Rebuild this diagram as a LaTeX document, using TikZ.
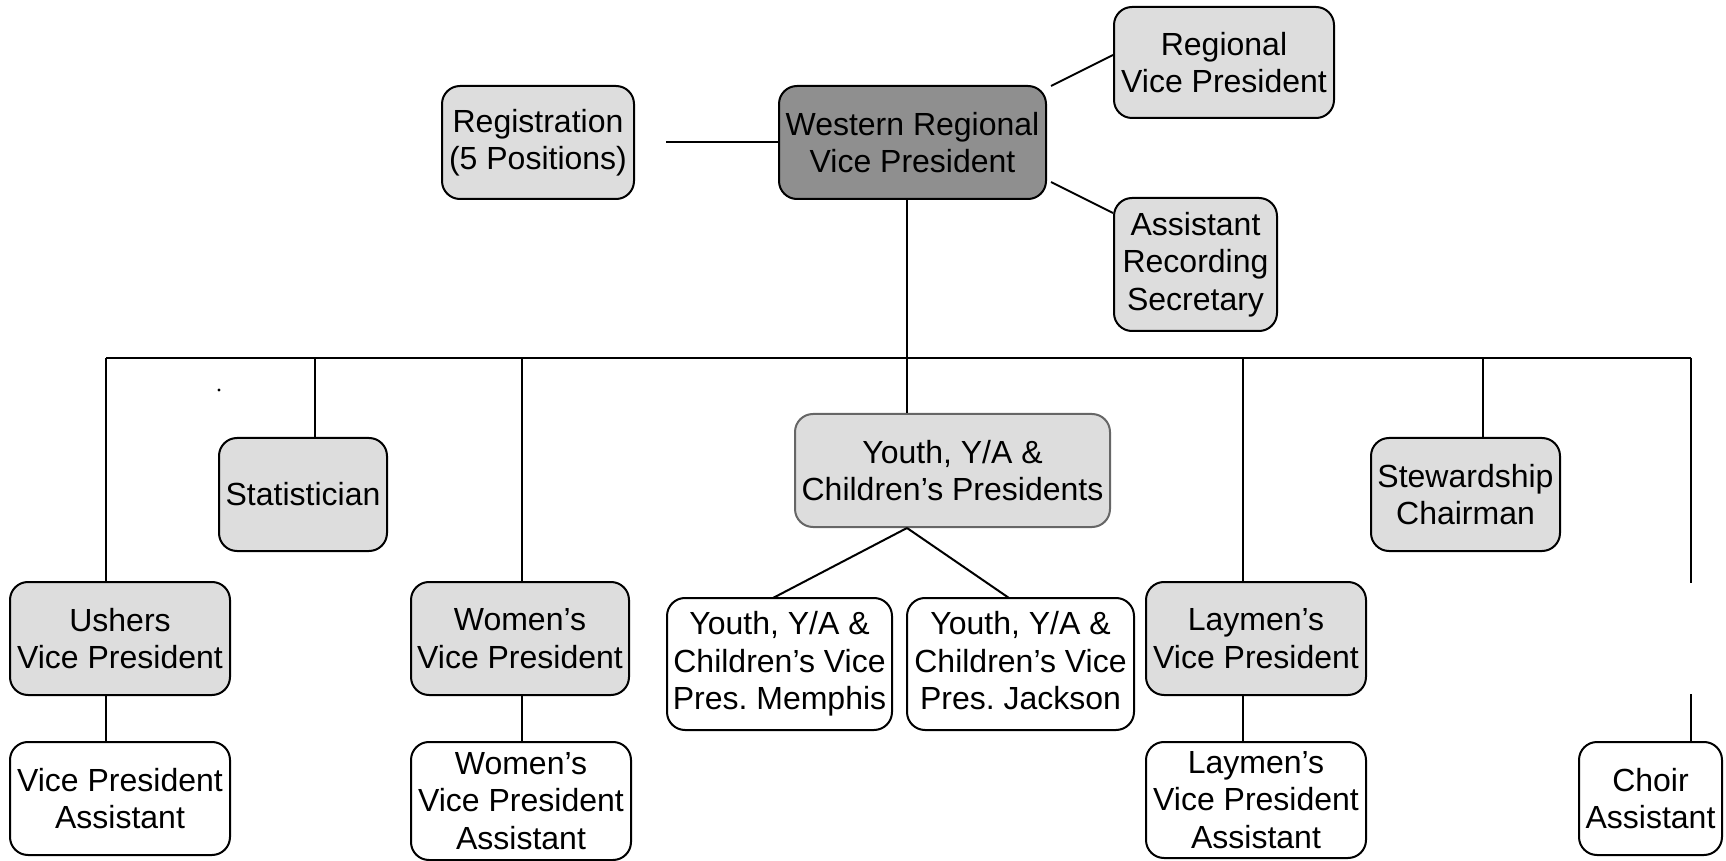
\documentclass[tikz,border=0pt]{standalone}
\usepackage{fontspec}
\setmainfont{Liberation Sans}
\frenchspacing
\definecolor{boxgray}{HTML}{DDDDDD}
\definecolor{headgray}{HTML}{8F8F8F}
\definecolor{edgegray}{HTML}{666666}
\begin{document}
\begin{tikzpicture}[x=0.5pt,y=-0.5pt,
  every node/.style={font=\fontsize{16}{18.7}\selectfont, align=center, inner sep=0pt},
  post/.style={draw=black, line width=1pt, rounded corners=9pt},
  filled/.style={post, fill=boxgray},
  plain/.style={post, fill=white},
  link/.style={draw=black, line width=1pt}]
\useasboundingbox (0,0) rectangle (1726,861);

% top row
\node[filled, minimum width=96pt, minimum height=56.5pt] (reg) at (538,142.5) {Registration\\(5 Positions)};
\node[post, fill=headgray, minimum width=133.5pt, minimum height=56.5pt] (wrvp) at (912.5,142.5) {Western Regional\\Vice President};
\node[filled, minimum width=110pt, minimum height=55.5pt] (rvp) at (1224,62.5) {Regional\\Vice President};
\node[filled, minimum width=81.5pt, minimum height=66.5pt] (ars) at (1195.5,264.5) {Assistant\\Recording\\Secretary};

% second row
\node[filled, minimum width=84pt, minimum height=56.5pt] (stat) at (303,494.5) {Statistician};
\node[post, draw=edgegray, fill=boxgray, minimum width=157.5pt, minimum height=56.5pt] (yp) at (952.5,470.5) {Youth, Y/A \&\\Children’s Presidents};
\node[filled, minimum width=94.5pt, minimum height=56.5pt] (stew) at (1465.5,494.5) {Stewardship\\Chairman};

% vice presidents
\node[filled, minimum width=110pt, minimum height=56.5pt] (uvp) at (120,638.5) {Ushers\\Vice President};
\node[filled, minimum width=109pt, minimum height=56.5pt] (wvp) at (520,638.5) {Women’s\\Vice President};
\node[filled, minimum width=110pt, minimum height=56.5pt] (lvp) at (1256,638.5) {Laymen’s\\Vice President};
\node[plain, minimum width=112.5pt, minimum height=66pt] (mem) at (779.5,664) {Youth, Y/A \&\\Children’s Vice\\Pres. Memphis};
\node[plain, minimum width=113.5pt, minimum height=66pt] (jac) at (1020.5,664) {Youth, Y/A \&\\Children’s Vice\\Pres. Jackson\vphantom{p}};

% assistants
\node[plain, minimum width=110pt, minimum height=56.5pt] (vpa) at (120,798.5) {Vice President\\Assistant};
\node[plain, minimum width=110pt, minimum height=59pt] (wvpa) at (521,801) {Women’s\\Vice President\\Assistant};
\node[plain, minimum width=110pt, minimum height=58pt] (lvpa) at (1256,800) {Laymen’s\\Vice President\\Assistant};
\node[plain, minimum width=71.5pt, minimum height=56.5pt] (choir) at (1650.5,798.5) {Choir\\Assistant};

% bus drop points
\coordinate (busL) at (106,358);
\coordinate (busStat) at (315,358);
\coordinate (busW) at (522,358);
\coordinate (busC) at (907,358);
\coordinate (busLay) at (1243,358);
\coordinate (busStew) at (1483,358);
\coordinate (busR) at (1691,358);
\coordinate (choirTop) at (1691,583);
\coordinate (choirLow) at (1691,694);
\coordinate (regEnd) at (666,142.5);

% connectors from the head
\draw[link] (wrvp.west) -- (regEnd);
\draw[link] (1051,86) -- (rvp.west |- 0,55);
\draw[link] (1051,182) -- (ars.west |- 0,213);
\draw[link] (wrvp.south -| busC) -- (busC);

% horizontal bus and drops
\draw[link] (busL) -- (busR);
\draw[link] (busL) -- (busL |- uvp.north);
\draw[link] (busStat) -- (busStat |- stat.north);
\draw[link] (busW) -- (busW |- wvp.north);
\draw[link] (busC) -- (busC |- yp.north);
\draw[link] (busLay) -- (busLay |- lvp.north);
\draw[link] (busStew) -- (busStew |- stew.north);
\draw[link] (busR) -- (choirTop);
\draw[link] (choirLow) -- (choirLow |- choir.north);

% assistants under their vice presidents
\draw[link] (busL |- uvp.south) -- (busL |- vpa.north);
\draw[link] (busW |- wvp.south) -- (busW |- wvpa.north);
\draw[link] (busLay |- lvp.south) -- (busLay |- lvpa.north);

% youth branches
\draw[link] (busC |- yp.south) -- (773,598);
\draw[link] (busC |- yp.south) -- (1009,598);

% stray mark
\fill (219,390) circle (0.8pt);
\end{tikzpicture}
\end{document}
